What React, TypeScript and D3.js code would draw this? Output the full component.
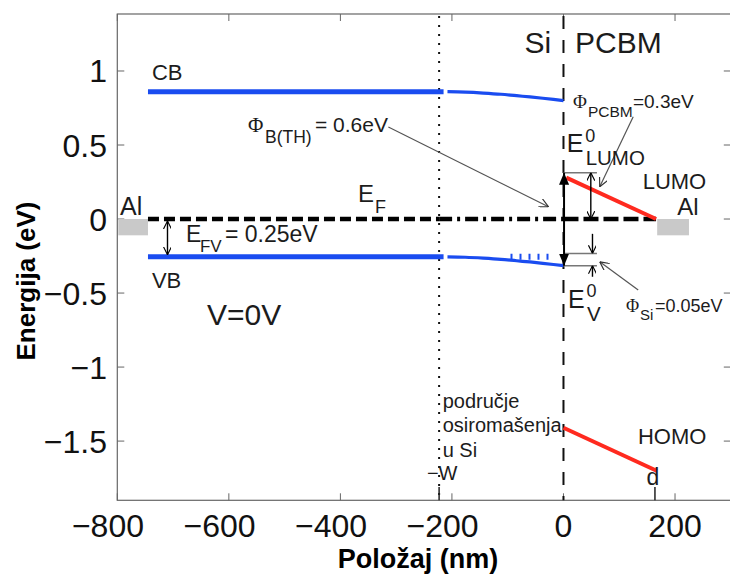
import React from 'react';
import * as d3 from 'd3';

type P = [number, number];

const xTicks = [-800, -600, -400, -200, 0, 200];
const yTicks = [1, 0.5, 0, -0.5, -1, -1.5];
const xDomain: P = [-800, 300];
const yDomain: P = [-1.9, 1.385];

const cbFlat: P[] = [[-745, 0.86], [-215, 0.86]];
const cbBend: P[] = [[-208, 0.86], [-176, 0.857], [-144, 0.851], [-112, 0.843], [-84, 0.833], [-60, 0.825], [-37, 0.816], [-18, 0.808], [0, 0.8]];
const vbFlat: P[] = [[-745, -0.255], [-215, -0.255]];
const vbBend: P[] = [[-208, -0.255], [-176, -0.258], [-144, -0.264], [-112, -0.272], [-84, -0.282], [-60, -0.29], [-37, -0.299], [-18, -0.307], [0, -0.315]];
const vbDots: P[] = [[-95, -0.255], [-18, -0.255]];
const efDash: P[] = [[-745, 0], [-223, 0]];
const efDashDot: P[] = [[-223, 0], [0, 0]];
const efRight: P[] = [[0, 0], [166, 0]];
const lumo: P[] = [[5, 0.28], [166, 0]];
const homo: P[] = [[0, -1.41], [167, -1.7]];
const alLeft: P = [-800, -745];
const alRight: P = [168, 225];
const alDepth = -0.11;
const depletionEdge = -223;
const interfaceX = 0;
const dEdge = 164;
const lumoTop = 0.313;
const vbEdge = -0.315;
const siBracket = -0.232;

const BLUE = '#1a4cf0';
const RED = '#ff2a1f';
const TXT = '#1c1c1c';
const FONT = '"Liberation Sans", Arial, Helvetica, sans-serif';
const SERIF = '"Liberation Serif", "Times New Roman", serif';
const TICK_FS = 32;

export default function App() {
  const x = d3.scaleLinear().domain(xDomain).range([117.3, 730.8]);
  const y = d3.scaleLinear().domain(yDomain).range([500.3, 14]);
  const line = d3.line<P>().x(d => x(d[0])).y(d => y(d[1]));
  const curve = d3.line<P>().x(d => x(d[0])).y(d => y(d[1])).curve(d3.curveMonotoneX);
  const x0 = x(xDomain[0]), x1 = x(xDomain[1]);
  const yT = y(yDomain[1]), yB = y(yDomain[0]);
  const minusHalf = TICK_FS * 0.584 / 2;

  return (
    <svg width={730} height={578} style={{ position: 'absolute', left: 0, top: 0, background: '#fff' }} fontFamily={FONT}>
      <defs>
        <marker id="ptr" viewBox="0 0 10 10" refX="10" refY="5" markerWidth="9" markerHeight="9" markerUnits="userSpaceOnUse" orient="auto">
          <path d="M0,0 L10,5 L0,10" fill="none" stroke="#333" strokeWidth="1.3" />
        </marker>
        <marker id="blk" viewBox="0 0 12 10" refX="12" refY="5" markerWidth="12" markerHeight="10" markerUnits="userSpaceOnUse" orient="auto-start-reverse">
          <path d="M0,0 L12,5 L0,10 Z" fill="#000" />
        </marker>
        <marker id="opn" viewBox="0 0 10 10" refX="10" refY="5" markerWidth="8" markerHeight="8" markerUnits="userSpaceOnUse" orient="auto-start-reverse">
          <path d="M0,0 L10,5 L0,10" fill="none" stroke="#000" strokeWidth="1.4" />
        </marker>
      </defs>

      {/* frame */}
      <rect x={x0} y={yT} width={x1 - x0} height={yB - yT} fill="none" stroke="#666" strokeWidth={1.2} />
      {xTicks.map(t => (
        <g key={'xt' + t}>
          <line x1={x(t)} x2={x(t)} y1={yB} y2={yB - 7} stroke="#666" />
          <line x1={x(t)} x2={x(t)} y1={yT} y2={yT + 7} stroke="#666" />
          <text x={x(t) - (t < 0 ? minusHalf : 0)} y={537} textAnchor="middle" fontSize={TICK_FS} fill="#111">{t < 0 ? '\u2212' + Math.abs(t) : t}</text>
        </g>
      ))}
      {yTicks.map(t => (
        <g key={'yt' + t}>
          <line x1={x0} x2={x0 + 7} y1={y(t)} y2={y(t)} stroke="#666" />
          <line x1={x1} x2={x1 - 7} y1={y(t)} y2={y(t)} stroke="#666" />
          <text x={107} y={y(t) + 11.5} textAnchor="end" fontSize={TICK_FS} fill="#111">{t < 0 ? '\u2212' + Math.abs(t) : t}</text>
        </g>
      ))}
      <text x={418} y={568} textAnchor="middle" fontSize={27} fontWeight="bold" fill="#000">Položaj (nm)</text>
      <text transform="translate(35,281) rotate(-90)" textAnchor="middle" fontSize={26} fontWeight="bold" fill="#000">Energija (eV)</text>

      {/* aluminium contacts */}
      <rect x={x(alLeft[0]) + 1} y={y(0)} width={x(alLeft[1]) - x(alLeft[0]) - 1} height={y(alDepth) - y(0)} fill="#c9c9c9" />
      <rect x={x(alRight[0])} y={y(0)} width={x(alRight[1]) - x(alRight[0])} height={y(alDepth) - y(0)} fill="#c9c9c9" />

      {/* depletion and interface lines */}
      <line x1={x(depletionEdge)} x2={x(depletionEdge)} y1={yT + 2} y2={yB} stroke="#111" strokeWidth={2} strokeDasharray="2,7" />
      <line x1={x(interfaceX)} x2={x(interfaceX)} y1={yT + 2} y2={yB} stroke="#111" strokeWidth={2} strokeDasharray="13,11" />

      {/* Fermi level */}
      <path d={line(efDash)!} stroke="#000" strokeWidth={4.5} fill="none" strokeDasharray="11,5" />
      <path d={line(efDashDot)!} stroke="#000" strokeWidth={4.5} fill="none" strokeDasharray="13,5,3,5" />
      <path d={line(efRight)!} stroke="#000" strokeWidth={4.5} fill="none" strokeDasharray="15,5" />

      {/* bands */}
      <path d={line(cbFlat)!} stroke={BLUE} strokeWidth={5} fill="none" />
      <path d={curve(cbBend)!} stroke={BLUE} strokeWidth={3.2} fill="none" />
      <path d={line(vbFlat)!} stroke={BLUE} strokeWidth={5} fill="none" />
      <path d={curve(vbBend)!} stroke={BLUE} strokeWidth={3.2} fill="none" />
      <path d={line(vbDots)!} stroke={BLUE} strokeWidth={6} fill="none" strokeDasharray="2,7" />
      <path d={line(lumo)!} stroke={RED} strokeWidth={4} fill="none" />
      <path d={line(homo)!} stroke={RED} strokeWidth={4} fill="none" />

      {/* barrier arrows */}
      <line x1={x(interfaceX)} x2={x(60)} y1={y(lumoTop)} y2={y(lumoTop)} stroke="#777" strokeWidth={1.5} />
      <line x1={x(interfaceX)} x2={x(60)} y1={y(siBracket)} y2={y(siBracket)} stroke="#777" strokeWidth={1.5} />
      <line x1={x(interfaceX)} x2={x(60)} y1={y(vbEdge)} y2={y(vbEdge)} stroke="#777" strokeWidth={1.5} />
      <line x1={x(1)} x2={x(1)} y1={y(lumoTop)} y2={y(vbEdge)} stroke="#000" strokeWidth={2} markerStart="url(#blk)" markerEnd="url(#blk)" />
      <line x1={x(49)} x2={x(49)} y1={y(lumoTop)} y2={y(0)} stroke="#000" strokeWidth={1.4} markerStart="url(#opn)" markerEnd="url(#opn)" />
      <line x1={x(52)} x2={x(52)} y1={y(-0.1)} y2={y(siBracket)} stroke="#000" strokeWidth={1.4} markerEnd="url(#opn)" />
      <line x1={x(52)} x2={x(52)} y1={y(-0.39)} y2={y(vbEdge)} stroke="#000" strokeWidth={1.4} markerEnd="url(#opn)" />
      <line x1={x(-710)} x2={x(-710)} y1={y(0) + 2} y2={y(-0.255) - 2} stroke="#000" strokeWidth={1.4} markerStart="url(#opn)" markerEnd="url(#opn)" />

      {/* pointer arrows */}
      <line x1={x(-314)} y1={y(0.622)} x2={x(-27)} y2={y(0.083)} stroke="#555" strokeWidth={1.2} markerEnd="url(#ptr)" />
      <line x1={x(125)} y1={y(0.691)} x2={x(65)} y2={y(0.218)} stroke="#555" strokeWidth={1.2} markerEnd="url(#ptr)" />
      <line x1={x(134)} y1={y(-0.48)} x2={x(65)} y2={y(-0.289)} stroke="#555" strokeWidth={1.2} markerEnd="url(#ptr)" />

      {/* ticks for -W and d */}
      <line x1={x(depletionEdge)} x2={x(depletionEdge)} y1={487} y2={yB} stroke="#222" strokeWidth={1.5} />
      <line x1={x(dEdge)} x2={x(dEdge)} y1={487} y2={yB} stroke="#222" strokeWidth={1.5} />

      {/* labels */}
      <g fill={TXT}>
        <text x={x(-738)} y={y(0.94)} fontSize={22}>CB</text>
        <text x={x(-738)} y={y(-0.468)} fontSize={22}>VB</text>
        <text x={x(-795)} y={y(0.027)} fontSize={25}>Al</text>
        <text x={x(204)} y={y(0.026)} fontSize={24}>Al</text>
        <text x={x(-639)} y={y(-0.716)} fontSize={30}>V=0V</text>
        <text x={x(-22)} y={y(1.12)} fontSize={30} textAnchor="end">Si</text>
        <text x={x(20.6)} y={y(1.12)} fontSize={30}>PCBM</text>
        <text x={x(142)} y={y(0.205)} fontSize={22}>LUMO</text>
        <text x={x(133.6)} y={y(-1.52)} fontSize={22}>HOMO</text>
        <text x={x(-244.8)} y={y(-1.764)} fontSize={20}>−W</text>
        <text x={x(160.5)} y={y(-1.797)} fontSize={23} textAnchor="middle">d</text>

        <text fontSize={20}>
          <tspan x={x(-216.6)} y={y(-1.277)}>područje</tspan>
          <tspan x={x(-216.6)} y={y(-1.439)}>osiromašenja</tspan>
          <tspan x={x(-216.6)} y={y(-1.608)}>u Si</tspan>
        </text>

        {/* E_F */}
        <text>
          <tspan x={x(-368.5)} y={y(0.117)} fontSize={24}>E</tspan>
          <tspan x={x(-368.5) + 17} y={y(0.117) + 11.5} fontSize={18}>F</tspan>
        </text>
        {/* E_FV */}
        <text>
          <tspan x={x(-677)} y={y(-0.153)} fontSize={23}>E</tspan>
          <tspan x={x(-677) + 14} y={y(-0.153) + 10} fontSize={17}>FV</tspan>
          <tspan x={x(-677) + 39} y={y(-0.153)} fontSize={23}>= 0.25eV</tspan>
        </text>
        {/* Phi_B(TH) */}
        <text>
          <tspan x={x(-565.7)} y={y(0.59)} fontSize={21} fontFamily={SERIF}>Φ</tspan>
          <tspan x={x(-565.7) + 17} y={y(0.59) + 11.6} fontSize={17.5}>B(TH)</tspan>
          <tspan x={x(-565.7) + 67} y={y(0.59)} fontSize={21}>= 0.6eV</tspan>
        </text>
        {/* Phi_PCBM */}
        <text>
          <tspan x={x(17)} y={y(0.75)} fontSize={19} fontFamily={SERIF}>Φ</tspan>
          <tspan x={x(17) + 15} y={y(0.75) + 8.7} fontSize={15.5}>PCBM</tspan>
          <tspan x={x(17) + 60} y={y(0.75)} fontSize={19}>=0.3eV</tspan>
        </text>
        {/* E0_LUMO */}
        <text>
          <tspan x={x(5.7)} y={y(0.455)} fontSize={25}>E</tspan>
          <tspan x={x(5.7) + 18.5} y={y(0.455) - 9.5} fontSize={18}>0</tspan>
          <tspan x={x(5.7) + 19} y={y(0.455) + 13.3} fontSize={20.5}>LUMO</tspan>
        </text>
        {/* E0_V */}
        <text>
          <tspan x={x(8)} y={y(-0.601)} fontSize={25}>E</tspan>
          <tspan x={x(8) + 18.5} y={y(-0.601) - 11} fontSize={18}>0</tspan>
          <tspan x={x(8) + 19} y={y(-0.601) + 13} fontSize={20.5}>V</tspan>
        </text>
        {/* Phi_Si */}
        <text>
          <tspan x={x(112)} y={y(-0.626)} fontSize={18} fontFamily={SERIF}>Φ</tspan>
          <tspan x={x(112) + 14} y={y(-0.626) + 8.3} fontSize={15}>Si</tspan>
          <tspan x={x(112) + 29} y={y(-0.626)} fontSize={18}>=0.05eV</tspan>
        </text>
      </g>
    </svg>
  );
}
